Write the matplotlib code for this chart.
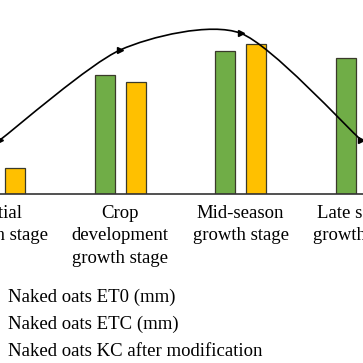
import numpy as np
import matplotlib.pyplot as plt
from matplotlib.path import Path
from matplotlib.patches import PathPatch

stages = ['Initial\ngrowth stage', 'Crop\ndevelopment\ngrowth stage',
          'Mid-season\ngrowth stage', 'Late season\ngrowth stage']
et0 = [30, 122.7, 147.4, 140.2]
etc = [26.8, 115.5, 154.6, 80]
kc = [0.39, 1.04, 1.16, 0.39]

plt.rcParams['font.family'] = ['Liberation Serif', 'DejaVu Serif']

fig = plt.figure(figsize=(3.63, 3.63), dpi=100)
ax = fig.add_axes([0, (363 - 194) / 363, 1, 194 / 363])
x = np.arange(len(stages))
w = 0.165
ax.bar(x - 0.128, et0, w, color='#70AD47', edgecolor='#3a3a2a', linewidth=0.9,
       label='Naked oats ET0 (mm)', zorder=2)
ax.bar(x + 0.128, etc, w, color='#FFC000', edgecolor='#3a3a2a', linewidth=0.9,
       label='Naked oats ETC (mm)', zorder=2)
ax.set_xlim(2 / 121, 365 / 121)
ax.set_ylim(0, 200)
ax.set_xticks(x)
ax.set_xticklabels(stages, fontsize=13.5, linespacing=1.4)
ax.tick_params(axis='x', length=0, pad=8)
ax.set_yticks([])
for s in ['left', 'right', 'top']:
    ax.spines[s].set_visible(False)
ax.spines['bottom'].set_color('#333333')
ax.spines['bottom'].set_linewidth(1.2)

ax2 = ax.twinx()
ax2.set_ylim(0, 1.4)
ax2.set_yticks([])
for s in ['left', 'right', 'top', 'bottom']:
    ax2.spines[s].set_visible(False)

# smooth line through the Kc points (Catmull-Rom style cubic Bezier)
pts = np.column_stack([x, kc]).astype(float)
ext = np.vstack([pts[0], pts, pts[-1]])
verts = [tuple(pts[0])]
codes = [Path.MOVETO]
for i in range(len(pts) - 1):
    p0, p1, p2, p3 = ext[i], ext[i + 1], ext[i + 2], ext[i + 3]
    c1 = p1 + (p2 - p0) / 8
    c2 = p2 - (p3 - p1) / 8
    verts += [tuple(c1), tuple(c2), tuple(p2)]
    codes += [Path.CURVE4] * 3
ax2.add_patch(PathPatch(Path(verts, codes), fill=False, edgecolor='black',
                        linewidth=1.2, zorder=3))
ax2.plot(x, kc, linestyle='none', marker='>', markersize=4.5, color='black')
kc_leg, = ax2.plot([], [], color='black', linewidth=1.2, marker='>', markersize=4.5,
                   label='Naked oats KC after modification')

h1, l1 = ax.get_legend_handles_labels()
fig.legend(h1 + [kc_leg], l1 + [kc_leg.get_label()], loc='upper left',
           bbox_to_anchor=(-44 / 363, 1 - 289 / 363), frameon=False,
           fontsize=13.5, borderaxespad=0, borderpad=0, labelspacing=0.5,
           handlelength=2, handletextpad=0.8)

fig.savefig('out.png', dpi=100)
